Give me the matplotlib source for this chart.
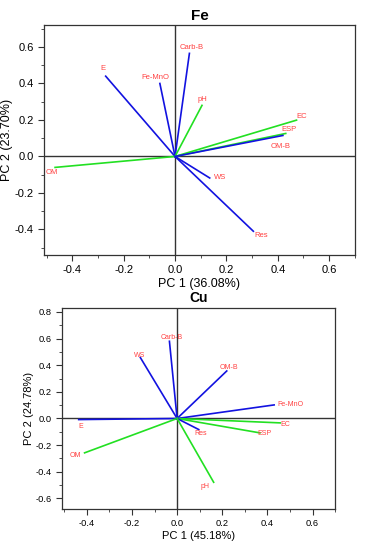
import matplotlib
matplotlib.use("Agg")
import matplotlib.pyplot as plt
from matplotlib.ticker import MultipleLocator

plt.rcParams['font.family'] = ['Liberation Sans', 'DejaVu Sans']

# loadings
fe_vars = ['E', 'Fe-MnO', 'Carb-B', 'pH', 'EC', 'ESP', 'OM-B', 'OM', 'WS', 'Res']
fe_pc1 = [-0.27, -0.059, 0.056, 0.105, 0.473, 0.431, 0.42, -0.467, 0.135, 0.305]
fe_pc2 = [0.44, 0.40, 0.565, 0.28, 0.199, 0.126, 0.115, -0.06, -0.118, -0.41]
fe_green = ['pH', 'EC', 'ESP', 'OM']

cu_vars = ['E', 'OM', 'WS', 'Carb-B', 'OM-B', 'Fe-MnO', 'EC', 'ESP', 'Res', 'pH']
cu_pc1 = [-0.436, -0.41, -0.163, -0.034, 0.22, 0.43, 0.457, 0.367, 0.096, 0.162]
cu_pc2 = [-0.008, -0.258, 0.458, 0.58, 0.357, 0.102, -0.033, -0.108, -0.083, -0.479]
cu_green = ['OM', 'EC', 'ESP', 'pH']

# where the red names sit
fe_lab = [(-0.281, 0.48), (-0.075, 0.43), (0.065, 0.598), (0.108, 0.314), (0.494, 0.219),
          (0.444, 0.146), (0.412, 0.055), (-0.48, -0.087), (0.176, -0.118), (0.336, -0.433)]
cu_lab = [(-0.429, -0.058), (-0.449, -0.281), (-0.167, 0.475), (-0.022, 0.61), (0.231, 0.385),
          (0.50, 0.102), (0.479, -0.043), (0.386, -0.113), (0.104, -0.111), (0.122, -0.51)]

BLUE = '#1212e0'
GREEN = '#22e022'
RED = '#ff4040'


def fmt(ts):
    return ['%.1f' % t if abs(t) > 1e-9 else '0.0' for t in ts]


def biplot(ax, names, pc1, pc2, green, labs, title, xl, yl, ylim, fs_tick, fs_lab, fs_title, fs_name):
    ax.axhline(0, color='#333333', lw=1.0, zorder=1)
    ax.axvline(0, color='#333333', lw=1.0, zorder=1)
    for n, x, y, (lx, ly) in zip(names, pc1, pc2, labs):
        c = GREEN if n in green else BLUE
        ax.plot([0, x], [0, y], color=c, lw=1.2, zorder=2)
        ax.text(lx, ly, n, color=RED, fontsize=fs_name, ha='center', va='center', zorder=3)
    ax.set_xlim(-0.51, 0.70)
    ax.set_ylim(*ylim)
    ax.xaxis.set_minor_locator(MultipleLocator(0.1))
    ax.yaxis.set_minor_locator(MultipleLocator(0.1))
    xt = [-0.4, -0.2, 0.0, 0.2, 0.4, 0.6]
    yt = [t / 10 for t in range(-8, 9, 2) if ylim[0] <= t / 10 <= ylim[1]]
    ax.set_xticks(xt)
    ax.set_xticklabels(fmt(xt))
    ax.set_yticks(yt)
    ax.set_yticklabels(fmt(yt))
    ax.tick_params(which='both', direction='out', top=False, right=False, labelsize=fs_tick,
                   color='#333333')
    ax.tick_params(which='major', length=4)
    ax.tick_params(which='minor', length=2.5)
    ax.set_xlabel(xl, fontsize=fs_lab, labelpad=2)
    ax.set_ylabel(yl, fontsize=fs_lab, labelpad=1)
    ax.set_title(title, fontsize=fs_title, fontweight='bold', pad=4)
    for s in ax.spines.values():
        s.set_color('#333333')
        s.set_linewidth(0.9)


fig = plt.figure(figsize=(3.7, 5.5), dpi=100)
ax1 = fig.add_axes([0.119, 0.5364, 0.84, 0.418])
ax2 = fig.add_axes([0.1676, 0.0745, 0.738, 0.3655])

biplot(ax1, fe_vars, fe_pc1, fe_pc2, fe_green, fe_lab, 'Fe', 'PC 1 (36.08%)', 'PC 2 (23.70%)',
       (-0.54, 0.72), 8, 9, 11, 5.5)
biplot(ax2, cu_vars, cu_pc1, cu_pc2, cu_green, cu_lab, 'Cu', 'PC 1 (45.18%)', 'PC 2 (24.78%)',
       (-0.68, 0.83), 6.7, 8, 10, 5)

fig.savefig('out.png', dpi=100)
